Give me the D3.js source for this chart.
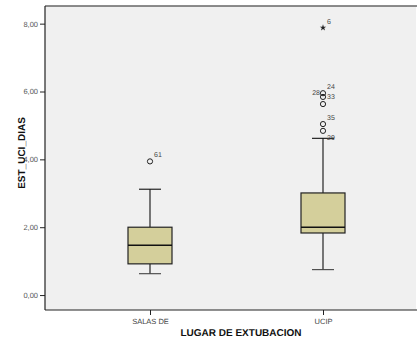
<!DOCTYPE html>
<html>
<head>
<meta charset="utf-8">
<script src="https://cdn.jsdelivr.net/npm/d3@7"></script>
<style>
  html, body { margin: 0; padding: 0; background: #fff; }
  svg { display: block; font-family: "Liberation Sans", Arial, sans-serif; }
  svg text { text-rendering: geometricPrecision; -webkit-font-smoothing: antialiased; }
</style>
</head>
<body>
<div id="chart"></div>
<script>
// categorias del eje x
const categories = ["SALAS DE", "UCIP"]
// resumen de cada caja
const whiskerLow = [0.63, 0.75]
const q1 = [0.92, 1.83]
const median = [1.47, 2.0]
const q3 = [2.0, 3.01]
const whiskerHigh = [3.12, 4.62]
// valores atipicos (circulo) y extremos (estrella)
const outliers = [
  { cat: "SALAS DE", value: 3.94, shape: "circle" },
  { cat: "UCIP", value: 7.88, shape: "star" },
  { cat: "UCIP", value: 5.95, shape: "circle" },
  { cat: "UCIP", value: 5.84, shape: "circle" },
  { cat: "UCIP", value: 5.63, shape: "circle" },
  { cat: "UCIP", value: 5.04, shape: "circle" },
  { cat: "UCIP", value: 4.84, shape: "circle" }
]
// etiquetas de caso
const caseLabels = [
  { cat: "SALAS DE", value: 3.94, text: "61", side: "up" },
  { cat: "UCIP", value: 7.88, text: "6", side: "up" },
  { cat: "UCIP", value: 5.95, text: "24", side: "up" },
  { cat: "UCIP", value: 5.95, text: "28", side: "left" },
  { cat: "UCIP", value: 5.84, text: "33", side: "right" },
  { cat: "UCIP", value: 5.04, text: "35", side: "up" },
  { cat: "UCIP", value: 4.62, text: "29", side: "right" }
]
const yTicks = [0, 2, 4, 6, 8]

const width = 417, height = 343
const plot = { left: 45, right: 416, top: 6, bottom: 310 }

const svg = d3.select("#chart").append("svg")
  .attr("width", width).attr("height", height)

// fondo del area de grafico
svg.append("rect")
  .attr("x", plot.left).attr("y", plot.top)
  .attr("width", plot.right - plot.left).attr("height", plot.bottom - plot.top)
  .attr("fill", "#f0f0f0")

const y = d3.scaleLinear().domain([-0.44, 8.52]).range([plot.bottom, plot.top])
const x = d3.scalePoint().domain(categories).range([150, 323])
const boxW = 44, capW = 22

// eje y
const yAxis = svg.append("g")
  .attr("transform", `translate(${plot.left},0)`)
  .call(d3.axisLeft(y).tickValues(yTicks).tickSize(5).tickPadding(2)
    .tickFormat(d => d3.format(".2f")(d).replace(".", ",")))
yAxis.select(".domain").remove()
yAxis.selectAll("line").attr("stroke", "#222")
yAxis.selectAll("text").attr("fill", "#555").style("font-size", "7.5px").attr("font-family", null)

// eje x
const xAxis = svg.append("g")
  .attr("transform", `translate(0,${plot.bottom})`)
  .call(d3.axisBottom(x).tickSize(5).tickPadding(4))
xAxis.select(".domain").remove()
xAxis.selectAll("line").attr("stroke", "#222")
xAxis.selectAll("text").attr("fill", "#444").style("font-size", "7.5px").attr("font-family", null)

// marco
svg.append("line").attr("x1", plot.left).attr("x2", plot.right + 1)
  .attr("y1", plot.top).attr("y2", plot.top).attr("stroke", "#666").attr("stroke-width", 1.5)
svg.append("line").attr("x1", plot.left).attr("x2", plot.left)
  .attr("y1", plot.top).attr("y2", plot.bottom).attr("stroke", "#222").attr("stroke-width", 1.2)
svg.append("line").attr("x1", plot.left).attr("x2", plot.right + 1)
  .attr("y1", plot.bottom).attr("y2", plot.bottom).attr("stroke", "#222").attr("stroke-width", 1.2)

// cajas
const boxes = svg.append("g").selectAll("g")
  .data(categories.map((c, i) => ({ cat: c, lo: whiskerLow[i], q1: q1[i], med: median[i], q3: q3[i], hi: whiskerHigh[i] })))
  .join("g")

boxes.append("line")
  .attr("x1", d => x(d.cat)).attr("x2", d => x(d.cat))
  .attr("y1", d => y(d.hi)).attr("y2", d => y(d.q3))
  .attr("stroke", "#111").attr("stroke-width", 1.1)
boxes.append("line")
  .attr("x1", d => x(d.cat)).attr("x2", d => x(d.cat))
  .attr("y1", d => y(d.q1)).attr("y2", d => y(d.lo))
  .attr("stroke", "#111").attr("stroke-width", 1.1)
boxes.append("line")
  .attr("x1", d => x(d.cat) - capW / 2).attr("x2", d => x(d.cat) + capW / 2)
  .attr("y1", d => y(d.hi)).attr("y2", d => y(d.hi))
  .attr("stroke", "#111").attr("stroke-width", 1.1)
boxes.append("line")
  .attr("x1", d => x(d.cat) - capW / 2).attr("x2", d => x(d.cat) + capW / 2)
  .attr("y1", d => y(d.lo)).attr("y2", d => y(d.lo))
  .attr("stroke", "#444").attr("stroke-width", 1.1)
boxes.append("rect")
  .attr("x", d => x(d.cat) - boxW / 2).attr("width", boxW)
  .attr("y", d => y(d.q3)).attr("height", d => y(d.q1) - y(d.q3))
  .attr("fill", "#d4cf9b").attr("stroke", "#222").attr("stroke-width", 1.2)
boxes.append("line")
  .attr("x1", d => x(d.cat) - boxW / 2).attr("x2", d => x(d.cat) + boxW / 2)
  .attr("y1", d => y(d.med)).attr("y2", d => y(d.med))
  .attr("stroke", "#111").attr("stroke-width", 1.6)

// atipicos
const pts = svg.append("g")
pts.selectAll("circle")
  .data(outliers.filter(d => d.shape == "circle"))
  .join("circle")
  .attr("cx", d => x(d.cat)).attr("cy", d => y(d.value))
  .attr("r", 2.6).attr("fill", "none").attr("stroke", "#222").attr("stroke-width", 1)
pts.selectAll("path")
  .data(outliers.filter(d => d.shape == "star"))
  .join("path")
  .attr("transform", d => `translate(${x(d.cat)},${y(d.value)})`)
  .attr("d", d3.symbol(d3.symbolStar, 13))
  .attr("fill", "#222")

// etiquetas de caso
svg.append("g").selectAll("text")
  .data(caseLabels)
  .join("text")
  .attr("x", d => d.side == "left" ? x(d.cat) - 3 : x(d.cat) + 4)
  .attr("y", d => d.side == "up" ? y(d.value) - 4 : y(d.value) + 2)
  .attr("text-anchor", d => d.side == "left" ? "end" : "start")
  .attr("fill", "#444")
  .style("font-size", "7px")
  .text(d => d.text)

// titulos de ejes
svg.append("text")
  .attr("x", 241).attr("y", 336)
  .attr("text-anchor", "middle")
  .style("font-size", "10px").style("font-weight", "bold")
  .attr("fill", "#111")
  .text("LUGAR DE EXTUBACION")
svg.append("text")
  .attr("transform", "translate(25,153) rotate(-90)")
  .attr("text-anchor", "middle")
  .style("font-size", "10px").style("font-weight", "bold")
  .attr("fill", "#111")
  .text("EST_UCI_DIAS")
</script>
</body>
</html>
